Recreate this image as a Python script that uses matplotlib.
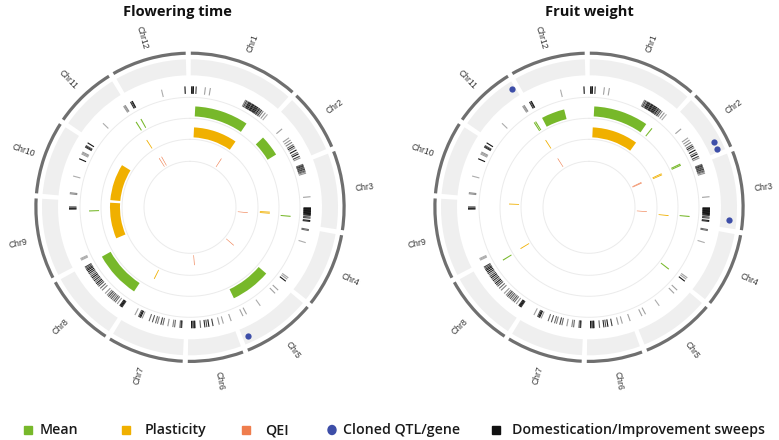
import numpy as np
import matplotlib.pyplot as plt
from matplotlib.patches import Rectangle, Ellipse

# tomato chromosomes (Mb)
chroms = ['Chr%d' % i for i in range(1, 13)]
chrom_len = [98.5, 55.3, 70.8, 66.5, 65.9, 49.8, 68.0, 65.9, 72.5, 65.5, 56.3, 67.1]

# domestication / improvement sweeps: chromosome, position (Mb), darkness 0-1
sweep_chr = ([1] * 26 + [2] * 12 + [3] * 27 + [4] * 6 + [5] * 5 + [6] * 12
             + [7] * 17 + [8] * 30 + [9] * 6 + [10] * 11 + [11] * 4 + [12] * 5)
sweep_pos = [1.2, 2.5, 3.2, 6.3, 16.7, 22.4, 64.5, 66, 67.5, 69, 70.2, 71.5, 72.8, 74, 75.2, 76.5,
             77.8, 79, 80.3, 81.5, 83, 84.5, 86, 88, 91, 94,
             14.2, 27, 30, 33, 36, 38, 40, 43, 46, 48, 51, 53,
             1, 2, 3, 4, 5, 6, 7, 8, 9, 10, 11.5, 38.6, 51.2, 52, 52.8, 53.6, 54.4, 55.2, 56, 56.8,
             57.6, 58.6, 59.6, 61.5, 62.8, 65.5, 66.5,
             0.5, 1.6, 15.6, 60, 62, 64.8,
             7, 12, 33.8, 52, 56.5,
             0.5, 9.8, 14.5, 21.7, 26.4, 28.8, 31, 35.9, 42.2, 43, 44.4, 46,
             3, 3.8, 5, 11, 13, 18.7, 24.4, 26.8, 30.8, 33, 36.7, 40.6, 49, 51, 52.2, 53.5, 58,
             2.5, 3.5, 4.5, 5.5, 9, 12, 14, 16, 18, 20, 22, 24, 27, 32, 35, 38, 40, 42, 44, 46,
             48, 50, 52, 54, 56, 58, 60, 61.5, 63, 64.5,
             3, 4, 5, 62.5, 63.5, 65,
             3, 4.2, 23.3, 44, 50, 51.2, 52.4, 58.8, 59.8, 60.8, 64.3,
             22.3, 52.5, 53.5, 54.5,
             0.8, 2, 3, 38.5, 65.2]
sweep_tone = [1, 0.9, 1, 0.8, 0.35, 0.35, 0.5, 0.8, 0.6, 1, 0.9, 1, 0.7, 1, 1, 0.8,
              1, 0.9, 1, 0.7, 1, 0.6, 0.8, 0.5, 0.4, 0.3,
              0.35, 0.35, 0.4, 0.5, 0.6, 0.9, 0.5, 1, 0.6, 1, 0.8, 0.4,
              0.6, 0.7, 0.9, 0.6, 0.8, 0.6, 0.9, 0.5, 0.7, 0.5, 0.4, 0.35, 1, 1, 1, 1, 1, 1, 1, 1,
              1, 1, 1, 0.7, 0.8, 1, 0.9,
              0.6, 0.6, 0.3, 0.35, 0.35, 1,
              0.35, 0.35, 0.3, 0.35, 0.35,
              0.35, 0.35, 0.4, 0.8, 1, 0.7, 0.9, 0.6, 1, 1, 1, 1,
              0.8, 0.9, 0.6, 0.6, 0.5, 0.4, 0.6, 0.8, 0.5, 0.6, 0.7, 0.6, 0.4, 1, 1, 0.7, 0.35,
              0.8, 1, 1, 0.9, 0.4, 0.6, 0.7, 0.5, 0.7, 0.6, 0.8, 0.5, 0.4, 0.5, 0.6, 0.7, 0.8, 1,
              0.6, 0.9, 0.7, 1, 0.8, 0.6, 0.9, 1, 1, 0.9, 0.7, 0.8,
              0.3, 0.3, 0.3, 0.8, 1, 0.9,
              0.45, 0.45, 0.3, 1, 0.35, 0.35, 0.4, 0.8, 0.9, 0.7, 1,
              0.3, 0.4, 0.35, 0.45,
              0.9, 0.7, 1, 0.3, 1]

# QTL intervals (chromosome, start Mb, end Mb)
ft_mean = [(1, 6.4, 80.2), (2, 6.4, 35.4), (3, 62.0, 63.5), (5, 1.7, 57.0), (8, 1.0, 65.5),
           (9, 59.0, 60.5), (11, 54.2, 55.7), (12, 1.0, 2.5)]
ft_plas = [(1, 6.2, 81.8), (3, 58.0, 59.2), (3, 60.0, 61.5), (7, 56.0, 57.5), (9, 10.4, 72.5),
           (10, 0.0, 63.3), (11, 53.0, 54.5)]
ft_qei = [(1, 76.6, 78.1), (3, 62.4, 63.9), (5, 1.0, 2.5), (6, 36.7, 38.2), (11, 54.5, 56.0),
          (12, 0.3, 1.8)]
ft_cloned = [(5, 60.7)]

fw_mean = [(1, 6.4, 81.4), (1, 90.3, 91.8), (2, 49.3, 50.5), (2, 51.0, 52.2), (3, 62.2, 63.7),
           (4, 64.3, 65.8), (8, 59.3, 60.8), (11, 52.8, 54.0), (11, 55.0, 56.2), (12, 5.0, 37.0)]
fw_plas = [(1, 5.7, 85.0), (2, 50.5, 51.5), (2, 52.5, 53.5), (3, 64.0, 65.5), (8, 60.3, 61.8),
           (9, 69.5, 71.0), (11, 52.8, 54.3)]
fw_qei = [(2, 49.0, 50.0), (2, 50.8, 51.8), (3, 60.0, 61.5), (11, 53.3, 54.8)]
fw_cloned = [(2, 44.9), (2, 51.9), (3, 63.3), (11, 53.0)]

GREEN = '#77b82a'
ORANGE = '#f0b000'
RED = '#ef7d4d'
BLUE = '#3d4ea8'

W, H = 779, 440
fig = plt.figure(figsize=(W / 100, H / 100), dpi=100)

GAP = 1.9
deg_mb = (360 - 12 * GAP) / sum(chrom_len)
chrom_start = 0.3 + np.concatenate([[0], np.cumsum(np.array(chrom_len[:-1]) * deg_mb + GAP)])


def theta(c, mb):
    return np.deg2rad(chrom_start[c - 1] + mb * deg_mb)


def draw_circos(cx, cy, title, tx, mean, plas, qei, cloned):
    R = 160
    ax = fig.add_axes([(cx - R) / W, (H - cy - R) / H, 2 * R / W, 2 * R / H], projection='polar')
    ax.set_theta_zero_location('N')
    ax.set_theta_direction(-1)
    ax.set_ylim(0, R)
    ax.axis('off')

    th = np.linspace(0, 2 * np.pi, 500)
    for r in [46, 68, 89, 110]:
        ax.plot(th, np.full_like(th, r), color='#ebebeb', lw=0.7, zorder=1)

    for i, name in enumerate(chroms):
        t0 = theta(i + 1, 0)
        t1 = theta(i + 1, chrom_len[i])
        ax.bar((t0 + t1) / 2, 16, width=t1 - t0, bottom=132, color='#efefef', linewidth=0)
        ax.bar((t0 + t1) / 2, 3.2, width=t1 - t0, bottom=152.5, color='#6f6f6f', linewidth=0)
        deg = np.rad2deg((t0 + t1) / 2)
        rot = 90 - deg
        while rot < -90:
            rot += 180
        ax.text((t0 + t1) / 2, 176, name, rotation=rot, rotation_mode='anchor',
                ha='center', va='center', fontsize=6.2, color='#333333',
                family='Liberation Sans')

    st = [theta(c, p) for c, p in zip(sweep_chr, sweep_pos)]
    cols = [str(0.93 - 0.85 * t) for t in sweep_tone]
    ax.vlines(st, 113.5, 121, colors=cols, lw=0.8, zorder=2)

    for feats, col, base in [(mean, GREEN, 91), (plas, ORANGE, 70), (qei, RED, 48)]:
        for c, s, e in feats:
            if e - s < 1.5:
                e = s + 1.5
            t0, t1 = theta(c, s), theta(c, e)
            ax.bar((t0 + t1) / 2, 10, width=t1 - t0, bottom=base, color=col,
                   linewidth=0, zorder=3)

    for c, p in cloned:
        ax.plot(theta(c, p), 141, 'o', color=BLUE, ms=4.5, mec='none', zorder=4)

    fig.text(tx / W, 1 - 12 / H, title, ha='center', va='center', fontsize=10.5,
             fontweight='bold', family='Open Sans', color='#111111')


draw_circos(190, 207.3, 'Flowering time', 177.5, ft_mean, ft_plas, ft_qei, ft_cloned)
draw_circos(589, 207.3, 'Fruit weight', 589, fw_mean, fw_plas, fw_qei, fw_cloned)

# legend
legend_labels = ['Mean', 'Plasticity', 'QEI', 'Cloned QTL/gene', 'Domestication/Improvement sweeps']
legend_colors = [GREEN, ORANGE, RED, BLUE, '#111111']
mark_x = [24, 122, 242, 328, 492]
text_x = [40, 145, 265, 343, 512]
ly = 430
for lab, col, mx, txx in zip(legend_labels, legend_colors, mark_x, text_x):
    if lab.startswith('Cloned'):
        fig.add_artist(Ellipse(((mx + 4) / W, (H - ly) / H), 8 / W, 9 / H,
                               transform=fig.transFigure, color=col))
    else:
        fig.add_artist(Rectangle((mx / W, (H - ly - 4) / H), 8 / W, 8 / H,
                                 transform=fig.transFigure, color=col))
    fig.text(txx / W, (H - ly) / H, lab, ha='left', va='center', fontsize=10.2,
             fontweight='semibold', family='Open Sans', color='#1a1a1a')

fig.savefig('out.png', dpi=100)
